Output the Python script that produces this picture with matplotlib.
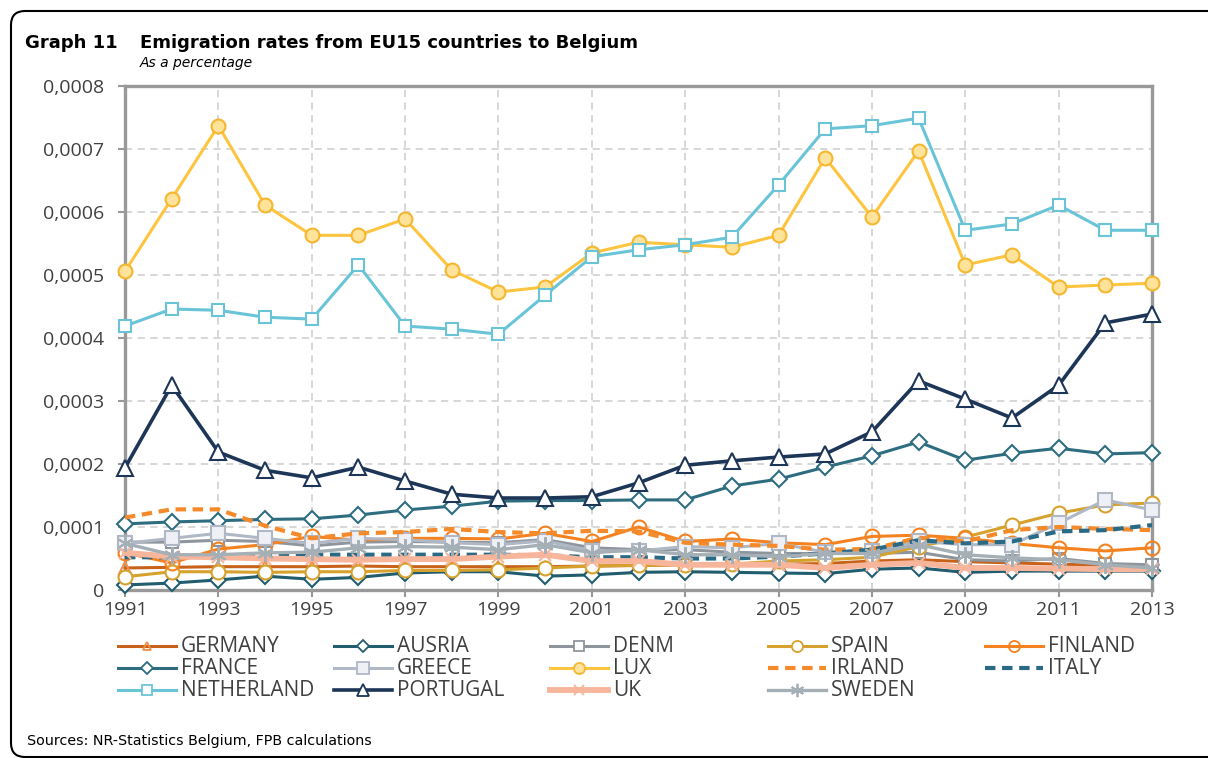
import numpy as np
import matplotlib
matplotlib.use("Agg")
import matplotlib.pyplot as plt
from matplotlib.lines import Line2D
from matplotlib.patches import PathPatch
from matplotlib.path import Path
from matplotlib.transforms import IdentityTransform
from matplotlib.ticker import FuncFormatter, MultipleLocator

# Data (units of 0.0001 %)
years = list(range(1991, 2014))
unit = 1e-4

germany = [0.35, 0.36, 0.37, 0.37, 0.37, 0.38, 0.37, 0.37, 0.37, 0.37, 0.38, 0.39, 0.40, 0.40, 0.41, 0.42, 0.46, 0.48, 0.45, 0.43, 0.41, 0.39, 0.38]
ausria = [0.08, 0.11, 0.16, 0.22, 0.17, 0.20, 0.27, 0.29, 0.29, 0.22, 0.24, 0.28, 0.29, 0.28, 0.27, 0.26, 0.33, 0.35, 0.28, 0.30, 0.30, 0.30, 0.30]
denm = [0.76, 0.76, 0.79, 0.77, 0.70, 0.76, 0.77, 0.76, 0.75, 0.80, 0.67, 0.64, 0.64, 0.60, 0.58, 0.58, 0.58, 0.60, 0.48, 0.46, 0.50, 0.42, 0.40]
spain = [0.21, 0.29, 0.29, 0.28, 0.29, 0.29, 0.31, 0.31, 0.32, 0.35, 0.38, 0.39, 0.40, 0.41, 0.46, 0.48, 0.52, 0.69, 0.84, 1.03, 1.22, 1.35, 1.38]
finland = [0.59, 0.43, 0.65, 0.72, 0.85, 0.79, 0.82, 0.82, 0.81, 0.90, 0.77, 1.00, 0.77, 0.81, 0.75, 0.72, 0.85, 0.87, 0.82, 0.74, 0.67, 0.62, 0.67]
france = [1.05, 1.08, 1.10, 1.12, 1.13, 1.19, 1.27, 1.33, 1.41, 1.42, 1.42, 1.43, 1.43, 1.65, 1.76, 1.95, 2.13, 2.35, 2.06, 2.17, 2.25, 2.16, 2.18]
greece = [0.74, 0.82, 0.90, 0.82, 0.74, 0.82, 0.80, 0.75, 0.72, 0.78, 0.62, 0.62, 0.69, 0.67, 0.74, 0.60, 0.62, 0.77, 0.72, 0.72, 1.06, 1.43, 1.27]
lux = [5.06, 6.21, 7.37, 6.11, 5.63, 5.63, 5.89, 5.08, 4.73, 4.81, 5.35, 5.52, 5.48, 5.44, 5.63, 6.86, 5.92, 6.97, 5.16, 5.32, 4.81, 4.84, 4.87]
irland = [1.15, 1.28, 1.28, 1.02, 0.82, 0.90, 0.92, 0.97, 0.92, 0.90, 0.94, 0.93, 0.75, 0.72, 0.70, 0.64, 0.65, 0.83, 0.77, 0.95, 1.00, 0.97, 0.95]
italy = [0.52, 0.52, 0.55, 0.56, 0.56, 0.56, 0.56, 0.56, 0.56, 0.55, 0.52, 0.52, 0.50, 0.50, 0.53, 0.58, 0.64, 0.79, 0.74, 0.77, 0.93, 0.95, 1.03]
netherland = [4.19, 4.46, 4.44, 4.33, 4.30, 5.16, 4.19, 4.14, 4.06, 4.68, 5.29, 5.40, 5.48, 5.60, 6.43, 7.32, 7.37, 7.49, 5.71, 5.81, 6.11, 5.71, 5.71]
portugal = [1.94, 3.25, 2.19, 1.90, 1.78, 1.95, 1.73, 1.52, 1.46, 1.46, 1.48, 1.70, 1.98, 2.05, 2.11, 2.16, 2.51, 3.32, 3.03, 2.73, 3.25, 4.24, 4.38]
uk = [0.59, 0.53, 0.52, 0.50, 0.49, 0.48, 0.49, 0.49, 0.53, 0.56, 0.46, 0.46, 0.40, 0.40, 0.40, 0.35, 0.40, 0.43, 0.35, 0.35, 0.34, 0.33, 0.33]
sweden = [0.74, 0.56, 0.56, 0.59, 0.60, 0.67, 0.69, 0.68, 0.64, 0.72, 0.59, 0.64, 0.56, 0.56, 0.53, 0.58, 0.58, 0.72, 0.56, 0.51, 0.48, 0.40, 0.35]

# name, values, line colour, width, dash, marker, marker face, marker edge, marker size
series = [
    ("GERMANY", germany, "#C8621B", 2.2, "-", "^", "none", "#F0904A", 8),
    ("AUSRIA", ausria, "#215D6E", 2.2, "-", "D", "white", "#215D6E", 8),
    ("DENM", denm, "#8E959C", 2.2, "-", "s", "white", "#8E959C", 9),
    ("SPAIN", spain, "#D6A22D", 2.2, "-", "o", "white", "#D6A22D", 10),
    ("FINLAND", finland, "#F58220", 2.2, "-", "o", "none", "#F58220", 10),
    ("FRANCE", france, "#2E6D80", 2.2, "-", "D", "white", "#2E6D80", 8),
    ("GREECE", greece, "#B0B8C6", 2.2, "-", "s", "#EEF0F5", "#B0B8C6", 10),
    ("LUX", lux, "#FDC53F", 2.2, "-", "o", "#FFE39B", "#F5B730", 10),
    ("IRLAND", irland, "#F58A2A", 3.0, (0, (2.5, 1.6)), None, "none", "none", 0),
    ("ITALY", italy, "#2B6A84", 3.0, (0, (2.5, 1.6)), None, "none", "none", 0),
    ("NETHERLAND", netherland, "#6AC4D8", 2.2, "-", "s", "white", "#6AC4D8", 9),
    ("PORTUGAL", portugal, "#1D3557", 2.6, "-", "^", "white", "#1D3557", 11),
    ("UK", uk, "#F7B59C", 4.2, "-", "x", "none", "#F7B59C", 9),
    ("SWEDEN", sweden, "#A5AFB6", 2.4, "-", (6, 2, 0), "none", "#A5AFB6", 12),
]

W, H = 1208, 758
fig = plt.figure(figsize=(W / 100, H / 100), dpi=100)
ax = fig.add_axes([125 / W, 1 - 590 / H, (1152 - 125) / W, (590 - 86) / H])

for i, (name, vals, col, lw, ls, mk, mfc, mec, ms) in enumerate(series):
    ax.plot(years, np.array(vals) * unit, color=col, lw=lw, linestyle=ls,
            marker=mk, mfc=mfc, mec=mec, ms=ms, mew=1.5, zorder=3 + i,
            clip_on=False, solid_joinstyle="round")

ax.set_xlim(1991, 2013)
ax.set_ylim(0, 0.0008)
ax.set_xticks(years[::2])
ax.yaxis.set_major_locator(MultipleLocator(0.0001))
ax.yaxis.set_major_formatter(FuncFormatter(lambda v, p: "0" if v == 0 else f"{v:.4f}".replace(".", ",")))
ax.grid(True, color="#D4D4D4", linestyle=(0, (4, 3)), linewidth=1.3, zorder=0)
ax.set_axisbelow(True)
for sp in ax.spines.values():
    sp.set_color("#999999")
    sp.set_linewidth(2.4)
ax.tick_params(axis="both", direction="out", length=5, width=1.5, color="#999999",
               labelsize=14, labelcolor="#404040")
ax.tick_params(axis="y", pad=10)
ax.tick_params(axis="x", pad=3)
for lab in ax.get_xticklabels() + ax.get_yticklabels():
    lab.set_family("Open Sans")

# Titles
fig.text(25 / W, 1 - 43 / H, "Graph 11", fontsize=13, fontweight="bold", va="center", family="DejaVu Sans")
fig.text(140 / W, 1 - 43 / H, "Emigration rates from EU15 countries to Belgium", fontsize=13,
         fontweight="bold", va="center", family="DejaVu Sans")
fig.text(140 / W, 1 - 63 / H, "As a percentage", fontsize=10, style="italic", va="center", family="DejaVu Sans")
fig.text(27 / W, 1 - 741 / H, "Sources: NR-Statistics Belgium, FPB calculations", fontsize=10.3,
         va="center", family="DejaVu Sans")

# Legend drawn by hand, Excel-like fixed columns
col_x = [118, 334, 550, 768, 985]
row_y = [646, 668, 690]
for k, (name, vals, col, lw, ls, mk, mfc, mec, ms) in enumerate(series):
    r, c = divmod(k, 5)
    x0, y0 = col_x[c], H - row_y[r]
    fig.add_artist(Line2D([x0, x0 + 58], [y0, y0], transform=IdentityTransform(),
                          color=col, lw=lw, linestyle=ls))
    if mk is not None:
        fig.add_artist(Line2D([x0 + 29], [y0], transform=IdentityTransform(), marker=mk,
                              mfc=mfc, mec=mec, ms=ms * 0.8, mew=1.3, linestyle="none"))
    fig.text((x0 + 63) / W, y0 / H, name, fontsize=15, va="center", color="#404040",
             family="Open Sans")

# Outer frame: open path with rounded left corners, running off the right edge
r = 14
frame = Path([(W + 20, H - 11), (11 + r, H - 11), (11, H - 11), (11, H - 11 - r),
              (11, 1 + r), (11, 1), (11 + r, 1), (W + 20, 1)],
             [Path.MOVETO, Path.LINETO, Path.CURVE3, Path.CURVE3,
              Path.LINETO, Path.CURVE3, Path.CURVE3, Path.LINETO])
fig.add_artist(PathPatch(frame, transform=IdentityTransform(), fill=False, ec="black", lw=1.5))

fig.savefig("out.png", dpi=100)
